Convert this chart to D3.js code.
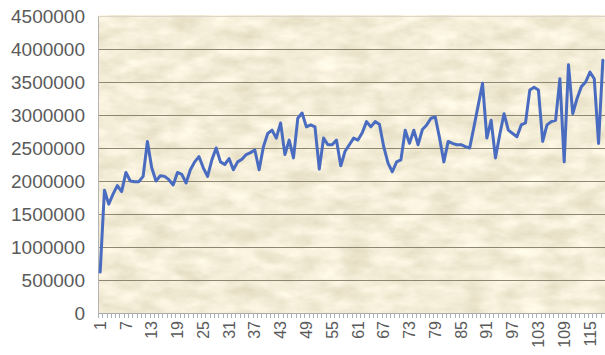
<!DOCTYPE html>
<html>
<head>
<meta charset="utf-8">
<script src="https://cdn.jsdelivr.net/npm/d3@7"></script>
<style>
  html, body { margin: 0; padding: 0; background: #ffffff; }
  svg { display: block; }
  text { font-family: "Liberation Sans", Arial, sans-serif; fill: #5a5a5a; }
</style>
</head>
<body>
<svg id="chart" width="605" height="355"></svg>
<script>
// Category numbers along the horizontal axis
const categories = d3.range(1, 119);

// Series values, one per category
const values = [
  620000, 1860000, 1650000, 1800000, 1930000, 1840000, 2130000, 2000000, 1990000, 1990000,
  2070000, 2600000, 2200000, 2000000, 2080000, 2070000, 2020000, 1940000, 2130000, 2100000,
  1970000, 2170000, 2290000, 2370000, 2200000, 2070000, 2320000, 2500000, 2290000, 2250000,
  2340000, 2170000, 2290000, 2330000, 2400000, 2430000, 2470000, 2170000, 2520000, 2720000,
  2770000, 2650000, 2880000, 2400000, 2620000, 2350000, 2950000, 3030000, 2820000, 2850000,
  2820000, 2180000, 2650000, 2550000, 2550000, 2620000, 2230000, 2450000, 2550000, 2650000,
  2620000, 2730000, 2900000, 2820000, 2900000, 2860000, 2520000, 2270000, 2140000, 2290000,
  2320000, 2770000, 2570000, 2770000, 2550000, 2780000, 2850000, 2950000, 2970000, 2650000,
  2290000, 2600000, 2570000, 2550000, 2550000, 2520000, 2500000, 2820000, 3150000, 3480000,
  2650000, 2920000, 2350000, 2700000, 3020000, 2770000, 2720000, 2670000, 2850000, 2880000,
  3380000, 3420000, 3380000, 2600000, 2850000, 2900000, 2920000, 3550000, 2290000, 3760000,
  3020000, 3250000, 3430000, 3500000, 3650000, 3550000, 2570000, 3830000
];

// Labelled categories (every sixth)
const xTickLabels = [1, 7, 13, 19, 25, 31, 37, 43, 49, 55, 61, 67, 73, 79, 85, 91, 97, 103, 109, 115];

// Value axis ticks
const yTicks = [0, 500000, 1000000, 1500000, 2000000, 2500000, 3000000, 3500000, 4000000, 4500000];

const svg = d3.select("#chart");
const plot = { left: 98, right: 605, top: 16, bottom: 313 };

const x = d3.scaleBand().domain(categories).range([plot.left, plot.right]).padding(0);
const y = d3.scaleLinear().domain([0, 4500000]).range([plot.bottom, plot.top]);

// Parchment texture for the plot area
const defs = svg.append("defs");
const filter = defs.append("filter").attr("id", "paper")
  .attr("x", 0).attr("y", 0).attr("width", "100%").attr("height", "100%");
filter.append("feTurbulence")
  .attr("type", "fractalNoise")
  .attr("baseFrequency", "0.035 0.07")
  .attr("numOctaves", 4)
  .attr("seed", 11)
  .attr("result", "noise");
filter.append("feColorMatrix")
  .attr("in", "noise")
  .attr("type", "matrix")
  .attr("values", "0.32 0 0 0 0.74  0.33 0 0 0 0.68  0.38 0 0 0 0.49  0 0 0 0 1");

svg.append("rect")
  .attr("x", plot.left).attr("y", plot.top - 1)
  .attr("width", plot.right - plot.left).attr("height", plot.bottom - plot.top + 1)
  .attr("fill", "#e4d6ae")
  .attr("filter", "url(#paper)");

// Horizontal gridlines
svg.append("g")
  .selectAll("line")
  .data(yTicks.filter(d => d > 0))
  .join("line")
  .attr("x1", plot.left).attr("x2", plot.right)
  .attr("y1", d => Math.round(y(d)) + 0.5).attr("y2", d => Math.round(y(d)) + 0.5)
  .attr("stroke", d => d === 4500000 ? "#dcd6c8" : "#8f8672")
  .attr("stroke-width", 1.1);

// Value axis
const yAxis = d3.axisLeft(y)
  .tickValues(yTicks)
  .tickSize(0)
  .tickPadding(13)
  .tickFormat(d3.format("d"));
const gy = svg.append("g")
  .attr("transform", `translate(${plot.left},0)`)
  .call(yAxis);
gy.select(".domain").attr("stroke", "#b4b4b4").attr("stroke-width", 1);
gy.selectAll("text")
  .style("font-size", "19px")
  .attr("fill", "#5e5e5e");

// Category axis: labels on every sixth category
const xAxis = d3.axisBottom(x)
  .tickValues(xTickLabels)
  .tickSize(0)
  .tickPadding(8);
const gx = svg.append("g")
  .attr("transform", `translate(0,${plot.bottom})`)
  .call(xAxis);
gx.select(".domain").attr("stroke", "#a9a9a9");
gx.selectAll("text")
  .style("font-size", "16px")
  .attr("fill", "#5e5e5e")
  .attr("text-anchor", "end")
  .attr("dy", "0.35em")
  .attr("transform", "rotate(-90)")
  .attr("x", -8)
  .attr("y", 0);

// Small tick between every pair of categories
svg.append("g")
  .selectAll("line")
  .data(categories.concat([categories.length + 1]))
  .join("line")
  .attr("x1", d => Math.round(d <= categories.length ? x(d) : plot.right) + 0.5)
  .attr("x2", d => Math.round(d <= categories.length ? x(d) : plot.right) + 0.5)
  .attr("y1", plot.bottom)
  .attr("y2", plot.bottom + 5)
  .attr("stroke", "#a9b0b8")
  .attr("stroke-width", 1);

// Data line
const line = d3.line()
  .x((d, i) => x(categories[i]) + x.bandwidth() / 2)
  .y(d => y(d));

svg.append("path")
  .datum(values)
  .attr("fill", "none")
  .attr("stroke", "#4a6cc0")
  .attr("stroke-width", 3)
  .attr("stroke-linejoin", "round")
  .attr("stroke-linecap", "round")
  .attr("d", line);
</script>
</body>
</html>
